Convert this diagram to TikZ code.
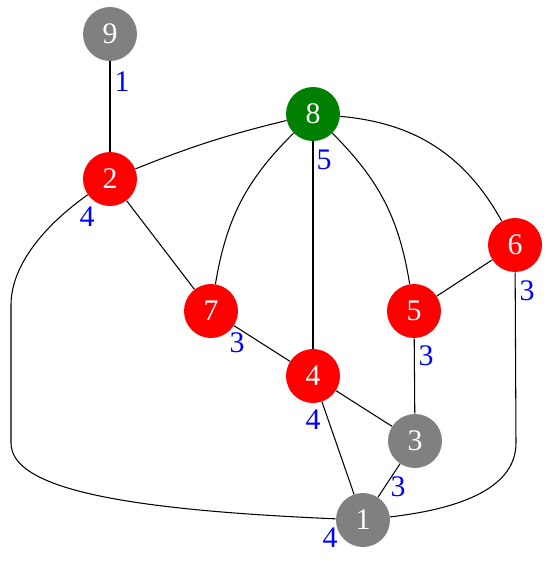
\documentclass[tikz,border=0pt]{standalone}
\usepackage{fontspec}
\setmainfont{Liberation Serif}
\begin{document}
\begin{tikzpicture}[x=0.02cm,y=-0.02cm,
  vtx/.style={circle,minimum size=1.08cm,inner sep=0pt,text=white,font=\fontsize{17}{20}\selectfont},
  vred/.style={vtx,fill=red},
  vgray/.style={vtx,fill=gray},
  vgreen/.style={vtx,fill=green!50!black},
  wlab/.style={text=blue,inner sep=0pt,font=\fontsize{17}{20}\selectfont},
  edge/.style={line width=0.6pt,black}]
\useasboundingbox (0,0) rectangle (553,562);
\node[vgray]  (n9) at (110,34) {9};
\node[vgreen] (n8) at (313,114) {8};
\node[vred]   (n2) at (110,179) {2};
\node[vred]   (n6) at (515,245) {6};
\node[vred]   (n7) at (211,311) {7};
\node[vred]   (n5) at (414,311) {5};
\node[vred]   (n4) at (313,376) {4};
\node[vgray]  (n3) at (415,441) {3};
\node[vgray]  (n1) at (363,520) {1};
% edges
\draw[edge] (n9) -- (n2);
\draw[edge] (n8) to[bend right=4] (n2);
\draw[edge] (n8) to[bend right=18] (n7);
\draw[edge] (n8) -- (n4);
\draw[edge] (n8) to[bend left=18] (n5);
\draw[edge] (n8) to[bend left=28] (n6);
\draw[edge] (n2) -- (n7);
\draw[edge] (n2) .. controls (45,225) and (11,265) .. (11,305) -- (11,443)
                 .. controls (11,490) and (130,510) .. (n1);
\draw[edge] (n6) -- (516,443) .. controls (516,492) and (450,510) .. (n1);
\draw[edge] (n6) -- (n5);
\draw[edge] (n7) -- (n4);
\draw[edge] (n5) -- (n3);
\draw[edge] (n4) -- (n3);
\draw[edge] (n4) -- (n1);
\draw[edge] (n3) -- (n1);
% weights
\node[wlab] (w9) at (122,82) {1};
\node[wlab] (w8) at (324,160) {5};
\node[wlab] (w2) at (87,217) {4};
\node[wlab] (w6) at (527,291) {3};
\node[wlab] (w7) at (237,343) {3};
\node[wlab] (w5) at (426,356) {3};
\node[wlab] (w4) at (313,420) {4};
\node[wlab] (w3) at (398,487) {3};
\node[wlab] (w1) at (330,538) {4};
\end{tikzpicture}
\end{document}
